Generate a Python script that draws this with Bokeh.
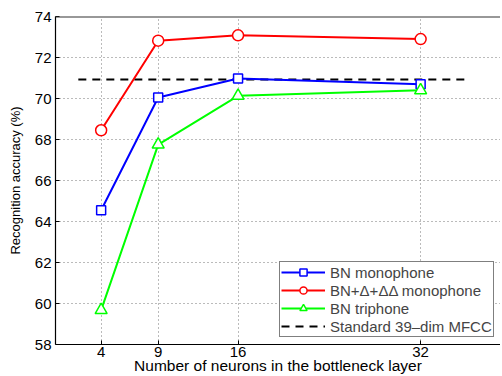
from bokeh.plotting import figure
from bokeh.models import Range1d, FixedTicker, Legend, LegendItem, Span
from bokeh.embed import file_html
from bokeh.resources import INLINE

neurons = [4, 9, 16, 32]
bn_mono = [64.55, 70.05, 70.98, 70.70]
bn_delta_mono = [68.45, 72.82, 73.08, 72.90]
bn_tri = [59.68, 67.75, 70.13, 70.40]
mfcc_x = [2, 36]
mfcc_y = [70.93, 70.93]
y_ticks = [58, 60, 62, 64, 66, 68, 70, 72, 74]

FONT = "Liberation Sans"

p = figure(width=500, height=376, output_backend="svg", toolbar_location=None,
           x_range=Range1d(0, 39.0), y_range=Range1d(58, 74),
           min_border_left=55, min_border_top=16, min_border_right=0, min_border_bottom=0)

p.xaxis.ticker = FixedTicker(ticks=neurons)
p.yaxis.ticker = FixedTicker(ticks=y_ticks)
p.xaxis.axis_label = "Number of neurons in the bottleneck layer"
p.yaxis.axis_label = "Recognition accuracy (%)"
for ax in (p.xaxis, p.yaxis):
    ax.axis_label_text_font = FONT
    ax.axis_label_text_font_style = "normal"
    ax.major_label_text_font = FONT
    ax.major_label_text_font_size = "15px"
    ax.major_label_text_color = "black"
    ax.axis_label_text_color = "black"
    ax.axis_line_color = "black"
    ax.axis_line_width = 1.2
    ax.major_tick_in = 4
    ax.major_tick_out = 0
    ax.minor_tick_line_color = None
    ax.major_tick_line_color = "black"
    ax.major_label_standoff = 4
p.xaxis.axis_label_text_font_size = "15.5px"
p.yaxis.axis_label_text_font_size = "13px"
p.xaxis.major_label_standoff = 2
p.xaxis.axis_label_standoff = -3
p.yaxis.axis_label_standoff = 9

p.xgrid.grid_line_color = "#555555"
p.ygrid.grid_line_color = "#555555"
p.xgrid.grid_line_dash = "1 3"
p.ygrid.grid_line_dash = "1 3"
p.xgrid.grid_line_alpha = 0.8
p.ygrid.grid_line_alpha = 0.8

p.outline_line_color = None
p.add_layout(Span(location=74, dimension="width", line_color="#333333", line_width=2))

r_mfcc = p.line(mfcc_x, mfcc_y, line_color="black", line_width=2, line_dash="8 6")

l1 = p.line(neurons, bn_mono, line_color="#0000FF", line_width=2)
m1 = p.scatter(neurons, bn_mono, marker="square", size=9, line_color="#0000FF",
               fill_color="white", line_width=1.5)
l2 = p.line(neurons, bn_delta_mono, line_color="#FF0000", line_width=2)
m2 = p.scatter(neurons, bn_delta_mono, marker="circle", size=11, line_color="#FF0000",
               fill_color="white", line_width=1.5)
l3 = p.line(neurons, bn_tri, line_color="#00FF00", line_width=2)
m3 = p.scatter(neurons, bn_tri, marker="triangle", size=12, line_color="#00FF00",
               fill_color="white", line_width=1.5)

legend = Legend(items=[
    LegendItem(label="BN monophone", renderers=[l1, m1]),
    LegendItem(label="BN+Δ+ΔΔ monophone", renderers=[l2, m2]),
    LegendItem(label="BN triphone", renderers=[l3, m3]),
    LegendItem(label="Standard 39\u2013dim MFCC", renderers=[r_mfcc]),
], location=(224, 7))
legend.label_text_font = FONT
legend.label_text_font_size = "15px"
legend.label_height = 18
legend.glyph_height = 18
legend.glyph_width = 44
legend.spacing = 0
legend.padding = 1
legend.margin = 0
legend.label_standoff = 5
legend.border_line_color = "black"
legend.border_line_width = 1.5
legend.background_fill_color = "white"
legend.background_fill_alpha = 1
p.add_layout(legend)

open("out.html", "w").write(file_html(p, INLINE))
